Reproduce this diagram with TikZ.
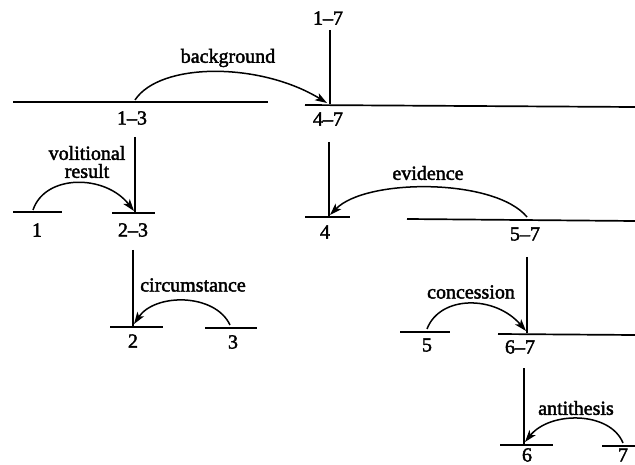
\documentclass[tikz,border=0pt]{standalone}
\usepackage{fontspec}
\setmainfont{Liberation Serif}[BoldFont=Liberation Serif,BoldFeatures={FakeBold=2}]
\usetikzlibrary{arrows.meta}
\begin{document}
\begin{tikzpicture}[x=1pt,y=-1pt,
  bar/.style={line width=1.7pt},
  stem/.style={line width=1.5pt},
  rel/.style={line width=1.5pt,-{Stealth[length=12pt,width=8pt,inset=3pt]}},
  lbl/.style={inner sep=0pt,font=\fontsize{20}{20}\selectfont\bfseries},
  rlbl/.style={inner sep=0pt,align=center,font=\fontsize{20}{18}\selectfont\bfseries}]
\useasboundingbox (0,0) rectangle (635,465);
% horizontal span bars
\draw[bar] (13,102) -- (268,102);
\draw[bar] (305,105) -- (635,107);
\draw[bar] (13,212) -- (62,212);
\draw[bar] (112,213) -- (155,213);
\draw[bar] (305,217) -- (350,217);
\draw[bar] (407,219) -- (635,221);
\draw[bar] (110,327) -- (163,327);
\draw[bar] (205,328) -- (257,328);
\draw[bar] (400,332) -- (450,332);
\draw[bar] (498,334) -- (635,335);
\draw[bar] (500,445) -- (553,445);
\draw[bar] (602,446) -- (635,446);
% vertical stems
\draw[stem] (330,30) -- (330,104);
\draw[stem] (135,137) -- (135,212);
\draw[stem] (329,142) -- (329,216);
\draw[stem] (133,250) -- (133,326);
\draw[stem] (527,257) -- (527,333);
\draw[stem] (524,368) -- (524,444);
% span labels
\node[lbl] (s17) at (328,18) {1--7};
\node[lbl] (s13) at (132,118) {1--3};
\node[lbl] (s47) at (328,119) {4--7};
\node[lbl] (s1) at (37,230) {1};
\node[lbl] (s23) at (133,230) {2--3};
\node[lbl] (s4) at (325,232) {4};
\node[lbl] (s57) at (525,234) {5--7};
\node[lbl] (s2) at (133,341) {2};
\node[lbl] (s3) at (233,342) {3};
\node[lbl] (s5) at (427,345) {5};
\node[lbl] (s67) at (520,347) {6--7};
\node[lbl] (s6) at (527,455) {6};
\node[lbl] (s7) at (623,455) {7};
% relation labels
\node[lbl] (rbg) at (228,58) {background};
\node[rlbl] (rvr) at (87,162) {volitional\\result};
\node[lbl] (rev) at (428,173) {evidence};
\node[lbl] (rci) at (193,285) {circumstance};
\node[lbl] (rco) at (471,292) {concession};
\node[lbl] (ran) at (576,408) {antithesis};
% arc end points
\coordinate (a13) at (135,100);
\coordinate (a47) at (327,103);
\coordinate (a1) at (33,210);
\coordinate (a23) at (134,211);
\coordinate (a57) at (527,217);
\coordinate (a4) at (330,215);
\coordinate (a3) at (230,325);
\coordinate (a2) at (134,324);
\coordinate (a5) at (427,329);
\coordinate (a67) at (526,331);
\coordinate (a7) at (623,443);
\coordinate (a6) at (525,442);
% relation arcs
\draw[rel] (a13) .. controls (160,62) and (260,62) .. (a47);
\draw[rel] (a1) .. controls (45,174) and (105,174) .. (a23);
\draw[rel] (a57) .. controls (495,178) and (366,178) .. (a4);
\draw[rel] (a3) .. controls (215,293) and (155,293) .. (a2);
\draw[rel] (a5) .. controls (440,295) and (495,295) .. (a67);
\draw[rel] (a7) .. controls (610,411) and (550,411) .. (a6);
\end{tikzpicture}
\end{document}
